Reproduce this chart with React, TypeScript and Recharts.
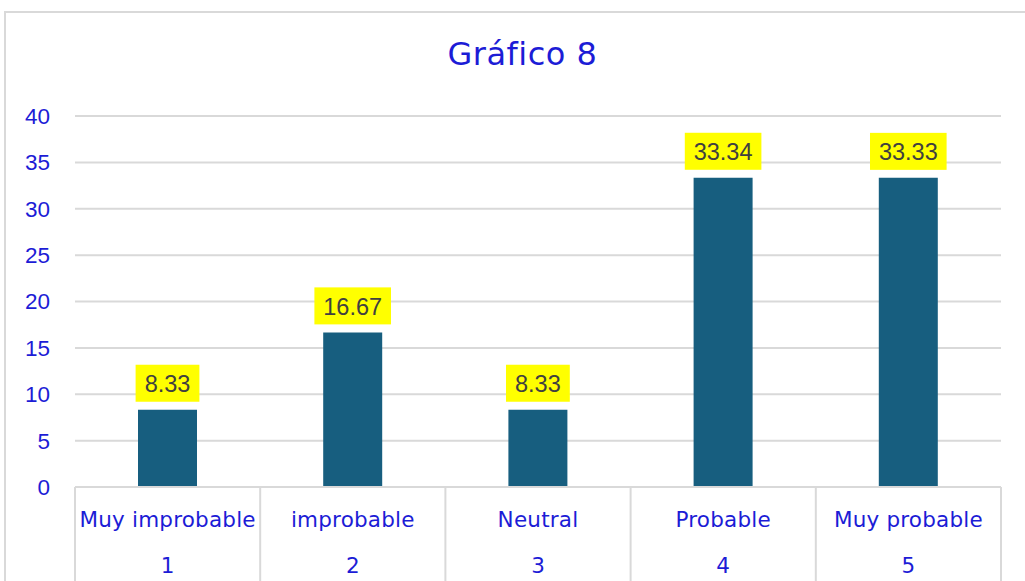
import { BarChart, Bar, XAxis, YAxis, CartesianGrid, LabelList } from 'recharts';

const categories = ['Muy improbable', 'improbable', 'Neutral', 'Probable', 'Muy probable'];
const codes = ['1', '2', '3', '4', '5'];
const values = [8.33, 16.67, 8.33, 33.34, 33.33];
const yTicks = [0, 5, 10, 15, 20, 25, 30, 35, 40];

const data = categories.map((name, i) => ({ name, code: codes[i], value: values[i] }));

const BLUE = '#1c1cd6';
const GRID = '#d9d9d9';
const AXIS_FONT = '"DejaVu Sans", "Noto Sans", sans-serif';
const NUM_FONT = '"Liberation Sans", Arial, sans-serif';

const CategoryTick = (props: any) => {
  const { x, y, payload, index, visibleTicksCount, width } = props;
  const half = payload.offset || width / visibleTicksCount / 2;
  const last = index === visibleTicksCount - 1;
  return (
    <g>
      <line x1={x - half} y1={y} x2={x - half} y2={y + 120} stroke={GRID} strokeWidth={2} />
      {last && <line x1={x + half} y1={y} x2={x + half} y2={y + 120} stroke={GRID} strokeWidth={2} />}
      <text x={x} y={y + 32} textAnchor="middle" dominantBaseline="central" fill={BLUE} fontSize={21.5} letterSpacing={0.2} fontFamily={AXIS_FONT}>
        {payload.value}
      </text>
      <text x={x} y={y + 78} textAnchor="middle" dominantBaseline="central" fill={BLUE} fontSize={21.5} fontFamily={AXIS_FONT}>
        {codes[index]}
      </text>
    </g>
  );
};

const ValueLabel = (props: any) => {
  const { x, y, width, value } = props;
  const text = value.toFixed(2);
  const textW = text.replace('.', '').length * 12.8 + 6.4;
  const boxW = textW + 19;
  const boxH = 37;
  const cx = x + width / 2;
  const top = y - 8 - boxH;
  return (
    <g>
      <rect x={cx - boxW / 2} y={top} width={boxW} height={boxH} fill="#ffff00" />
      <text x={cx} y={top + boxH / 2 + 1} textAnchor="middle" dominantBaseline="central" fill="#404040" fontSize={23.5} fontFamily={NUM_FONT}>
        {text}
      </text>
    </g>
  );
};

export default function App() {
  return (
    <div style={{ position: 'absolute', left: 0, top: 0, width: 1025, height: 581, overflow: 'hidden', background: '#fff' }}>
      <div style={{ position: 'absolute', left: 4, top: 11, width: 1100, height: 700, border: `2px solid ${GRID}`, boxSizing: 'border-box' }} />
      <div style={{ position: 'absolute', left: 0, width: 1045, top: 34, textAlign: 'center', color: BLUE, fontSize: 32, letterSpacing: 0.5, fontFamily: AXIS_FONT, lineHeight: '40px' }}>
        Gráfico 8
      </div>
      <div style={{ position: 'absolute', left: 0, top: 0 }}>
        <BarChart width={1025} height={581} data={data} margin={{ top: 116, right: 24, bottom: 0, left: 0 }}>
          <CartesianGrid horizontal vertical={false} stroke={GRID} strokeWidth={2} />
          <XAxis
            dataKey="name"
            height={94}
            tickLine={false}
            tickSize={0}
            tickMargin={0}
            axisLine={{ stroke: GRID, strokeWidth: 2 }}
            tick={<CategoryTick />}
            interval={0}
          />
          <YAxis
            width={75}
            domain={[0, 40]}
            ticks={yTicks}
            axisLine={false}
            tickLine={false}
            tickSize={0}
            tickMargin={25}
            tick={{ fill: BLUE, fontSize: 22.5, fontFamily: NUM_FONT }}
          />
          <Bar dataKey="value" fill="#175e7f" barSize={59} isAnimationActive={false}>
            <LabelList dataKey="value" content={<ValueLabel />} />
          </Bar>
        </BarChart>
      </div>
    </div>
  );
}
